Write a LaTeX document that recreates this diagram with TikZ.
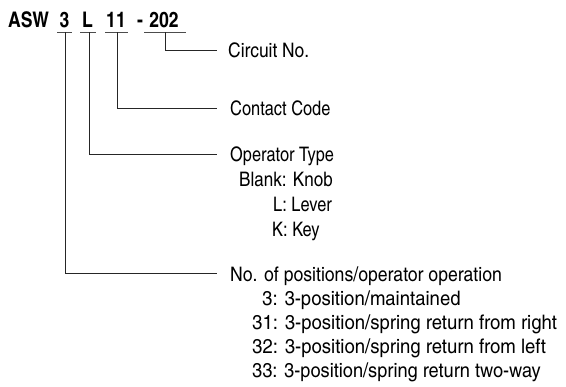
\documentclass[tikz,border=0pt]{standalone}
\usepackage{fontspec}
\setmainfont{texgyreheroscn}[Extension=.otf, UprightFont=*-regular, BoldFont=*-bold]
\begin{document}
\begin{tikzpicture}[x=1pt,y=-1pt,
  ttl/.style={font=\fontsize{21.5}{24}\selectfont\bfseries, inner sep=0pt, anchor=base},
  lbl/.style={font=\fontsize{20}{23}\selectfont, inner sep=0pt, anchor=base west},
  lblx/.style={lbl, font=\fontsize{20}{23}\selectfont\addfontfeatures{FakeStretch=#1}},
  conn/.style={draw=black!85, line width=0.9pt},
  uline/.style={draw=black!70, line width=1pt}]
\useasboundingbox (0,0) rectangle (566,387);
% title parts
\node[ttl] (asw) at (28.5,28) {ASW};
\node[ttl] (t3) at (64.5,28) {3};
\node[ttl] (tL) at (87.5,28) {L};
\node[ttl] (t11) at (116,28) {11};
\node[ttl] (dash) at (140,28) {-};
\node[ttl] (t202) at (164,28) {202};
% underlines
\coordinate (u3a) at (57,32.5); \coordinate (u3b) at (72,32.5);
\coordinate (uLa) at (80,32.5); \coordinate (uLb) at (96,32.5);
\coordinate (u11a) at (105,32.5); \coordinate (u11b) at (128,32.5);
\coordinate (u202a) at (144,32.5); \coordinate (u202b) at (186,32.5);
\draw[uline] (u3a) -- (u3b);
\draw[uline] (uLa) -- (uLb);
\draw[uline] (u11a) -- (u11b);
\draw[uline] (u202a) -- (u202b);
\coordinate (d3) at (65,32.5);
\coordinate (dL) at (89,32.5);
\coordinate (d11) at (117,32.5);
\coordinate (d202) at (165,32.5);
% labels
\node[lblx=1.06] (circ) at (228,57.5) {Circuit No.};
\node[lbl] (cont) at (230,116) {Contact Code};
\node[lbl] (oper) at (230,162) {Operator Type};
\node[lblx=1.04] (blank) at (239,187) {Blank: Knob};
\node[lbl] (lever) at (273,211.5) {L: Lever};
\node[lbl] (key) at (272,236.5) {K: Key};
\node[lblx=1.075] (pos) at (230,281.5) {No. of positions/operator operation};
\node[lblx=1.13] (p3) at (262,306) {3: 3-position/maintained};
\node[lblx=1.13] (p31) at (252,330) {31: 3-position/spring return from right};
\node[lblx=1.13] (p32) at (252,354) {32: 3-position/spring return from left};
\node[lblx=1.11] (p33) at (252,378) {33: 3-position/spring return two-way};
% connector ends
\coordinate (e202) at (217,50);
\coordinate (e11) at (217,108);
\coordinate (eL) at (217,154);
\coordinate (e3) at (217,273);
\draw[conn] (d202) |- (e202);
\draw[conn] (d11) |- (e11);
\draw[conn] (dL) |- (eL);
\draw[conn] (d3) |- (e3);
\end{tikzpicture}
\end{document}
